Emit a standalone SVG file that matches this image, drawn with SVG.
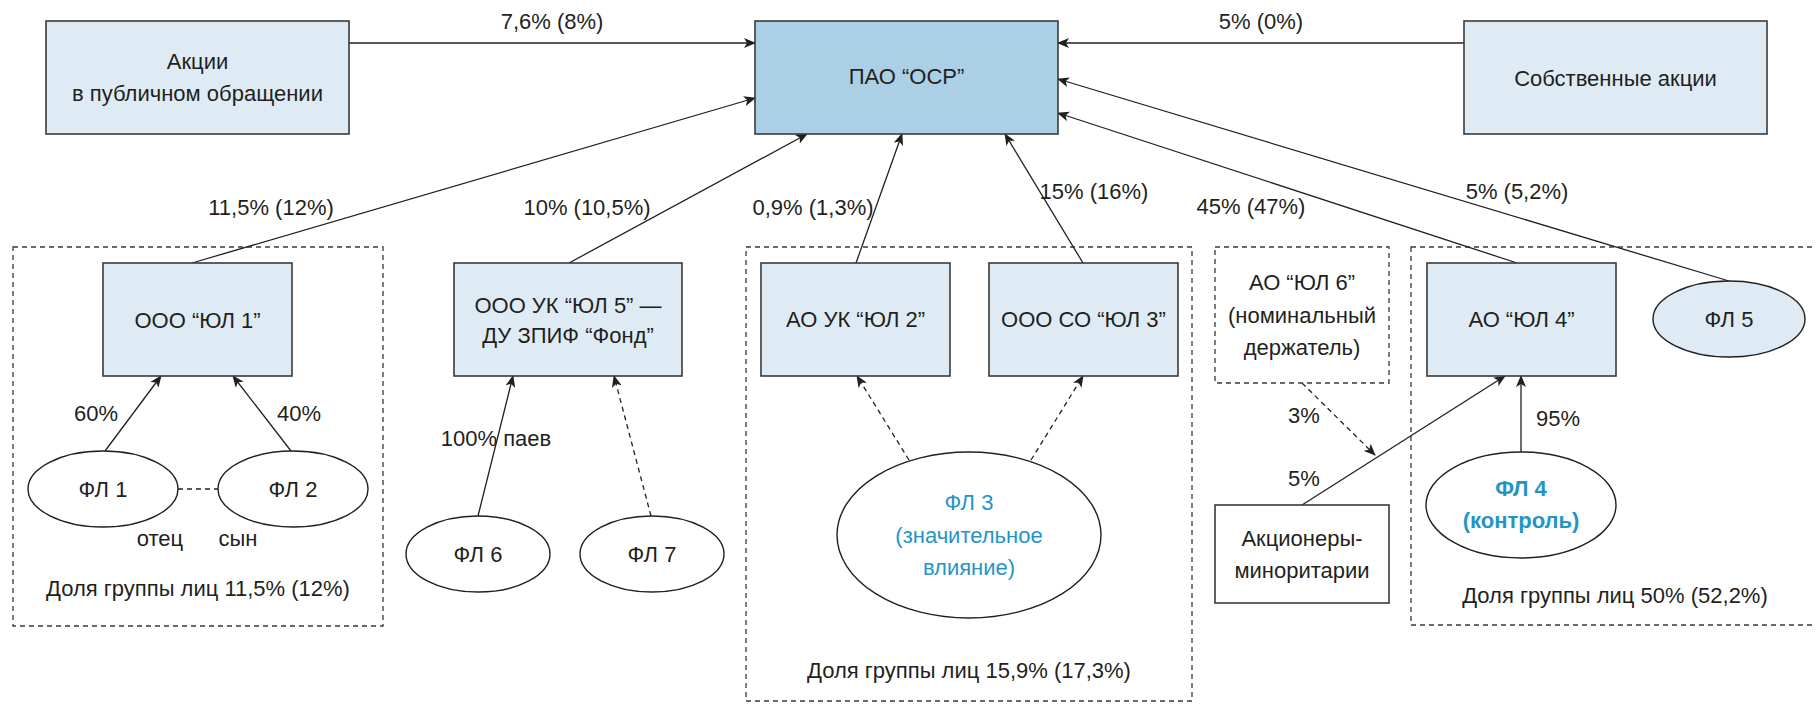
<svg xmlns="http://www.w3.org/2000/svg" width="1816" height="704" viewBox="0 0 1816 704">
<style>
text{font-family:"Liberation Sans",Arial,sans-serif;font-size:22px;fill:#231f20;text-anchor:middle}
.box{fill:#deebf4;stroke:#3a3a3a;stroke-width:1.6}
.main{fill:#abd0e6;stroke:#3a3a3a;stroke-width:1.6}
.white{fill:#fff;stroke:#3a3a3a;stroke-width:1.6}
.ell{fill:#fff;stroke:#231f20;stroke-width:1.4}
.ellb{fill:#deebf4;stroke:#231f20;stroke-width:1.4}
.grp{fill:none;stroke:#3a3a3a;stroke-width:1.3;stroke-dasharray:5 4}
.dbox{fill:#fff;stroke:#3a3a3a;stroke-width:1.3;stroke-dasharray:5 4}
.c{fill:none;stroke:#231f20;stroke-width:1.3}
.d{stroke-dasharray:5 4}
.arr{marker-end:url(#ah)}
.blue{fill:#1f95c8}
.bb{fill:#1f95c8;font-weight:bold}
</style>
<defs>
<marker id="ah" viewBox="0 0 12 10" refX="11" refY="5" markerWidth="12" markerHeight="10" markerUnits="userSpaceOnUse" orient="auto">
<path d="M0,0 L12,5 L0,10 L3,5 z" fill="#231f20"/>
</marker>
</defs>

<g id="groups">
<rect class="grp" x="13" y="247" width="370" height="379"/>
<rect class="grp" x="746" y="247" width="446" height="454"/>
<rect class="grp" x="1411" y="247" width="430" height="378"/>
</g>

<g id="connectors">
<line class="c arr" x1="349" y1="43" x2="755" y2="43"/>
<line class="c arr" x1="1464" y1="43" x2="1058" y2="43"/>
<line class="c arr" x1="192" y1="263" x2="755" y2="98"/>
<line class="c arr" x1="569" y1="263" x2="807" y2="134"/>
<line class="c arr" x1="856" y1="263" x2="902" y2="134"/>
<line class="c arr" x1="1083" y1="263" x2="1005" y2="134"/>
<line class="c arr" x1="1517" y1="263" x2="1058" y2="113"/>
<line class="c arr" x1="1729" y1="281" x2="1058" y2="79"/>
<line class="c arr" x1="105" y1="451" x2="161" y2="376"/>
<line class="c arr" x1="291" y1="451" x2="233" y2="376"/>
<line class="c d" x1="178" y1="489" x2="218" y2="489"/>
<line class="c arr" x1="478" y1="516" x2="513" y2="376"/>
<line class="c d arr" x1="651" y1="516" x2="614" y2="376"/>
<line class="c d arr" x1="909" y1="460" x2="857" y2="376"/>
<line class="c d arr" x1="1031" y1="460" x2="1083" y2="376"/>
<line class="c arr" x1="1521" y1="452" x2="1521" y2="376"/>
<line class="c arr" x1="1302" y1="505" x2="1505" y2="376"/>
<line class="c d arr" x1="1302" y1="383" x2="1375" y2="455"/>
</g>

<g id="labels">
<text x="552" y="29">7,6% (8%)</text>
<text x="1261" y="29">5% (0%)</text>
<text x="271" y="215">11,5% (12%)</text>
<text x="587" y="215">10% (10,5%)</text>
<text x="813" y="215">0,9% (1,3%)</text>
<text x="1094" y="199">15% (16%)</text>
<text x="1251" y="214">45% (47%)</text>
<text x="1517" y="199">5% (5,2%)</text>
<text x="96" y="421">60%</text>
<text x="299" y="421">40%</text>
<text x="160" y="546">отец</text>
<text x="238" y="546">сын</text>
<text x="496" y="446">100% паев</text>
<text x="1558" y="426">95%</text>
<text x="1304" y="423">3%</text>
<text x="1304" y="486">5%</text>
<text x="198" y="596">Доля группы лиц 11,5% (12%)</text>
<text x="969" y="678">Доля группы лиц 15,9% (17,3%)</text>
<text x="1615" y="603">Доля группы лиц 50% (52,2%)</text>
</g>

<g id="n-akcii"><rect class="box" x="46" y="21" width="303" height="113"/><text x="197.5" y="69">Акции</text><text x="197.5" y="101">в публичном обращении</text></g>
<g id="n-pao"><rect class="main" x="755" y="21" width="303" height="113"/><text x="906.5" y="84">ПАО “ОСР”</text></g>
<g id="n-sobstv"><rect class="box" x="1464" y="21" width="303" height="113"/><text x="1615.5" y="86">Собственные акции</text></g>

<g id="n-ul1"><rect class="box" x="103" y="263" width="189" height="113"/><text x="197.5" y="328">ООО “ЮЛ 1”</text></g>
<g id="n-ul5"><rect class="box" x="454" y="263" width="228" height="113"/><text x="568" y="313">ООО УК “ЮЛ 5” —</text><text x="568" y="343">ДУ ЗПИФ “Фонд”</text></g>
<g id="n-ul2"><rect class="box" x="761" y="263" width="189" height="113"/><text x="855.5" y="327">АО УК “ЮЛ 2”</text></g>
<g id="n-ul3"><rect class="box" x="989" y="263" width="189" height="113"/><text x="1083.5" y="327">ООО СО “ЮЛ 3”</text></g>
<g id="n-ul6"><rect class="dbox" x="1215" y="247" width="174" height="136"/><text x="1302" y="290">АО “ЮЛ 6”</text><text x="1302" y="323">(номинальный</text><text x="1302" y="355">держатель)</text></g>
<g id="n-ul4"><rect class="box" x="1427" y="263" width="189" height="113"/><text x="1521.5" y="327">АО “ЮЛ 4”</text></g>
<g id="n-fl5"><ellipse class="ellb" cx="1729" cy="319" rx="76" ry="38"/><text x="1729" y="327">ФЛ 5</text></g>

<g id="n-fl1"><ellipse class="ell" cx="103" cy="489" rx="75" ry="38"/><text x="103" y="497">ФЛ 1</text></g>
<g id="n-fl2"><ellipse class="ell" cx="293" cy="489" rx="75" ry="38"/><text x="293" y="497">ФЛ 2</text></g>
<g id="n-fl6"><ellipse class="ell" cx="478" cy="554" rx="72" ry="38"/><text x="478" y="562">ФЛ 6</text></g>
<g id="n-fl7"><ellipse class="ell" cx="652" cy="554" rx="72" ry="38"/><text x="652" y="562">ФЛ 7</text></g>
<g id="n-fl3"><ellipse class="ell" cx="969" cy="535" rx="132" ry="83"/><text class="blue" x="969" y="510">ФЛ 3</text><text class="blue" x="969" y="543">(значительное</text><text class="blue" x="969" y="575">влияние)</text></g>
<g id="n-fl4"><ellipse class="ell" cx="1521" cy="505" rx="95" ry="53"/><text class="bb" x="1521" y="496">ФЛ 4</text><text class="bb" x="1521" y="528">(контроль)</text></g>
<g id="n-minor"><rect class="white" x="1215" y="505" width="174" height="98"/><text x="1302" y="546">Акционеры-</text><text x="1302" y="578">миноритарии</text></g>
</svg>
